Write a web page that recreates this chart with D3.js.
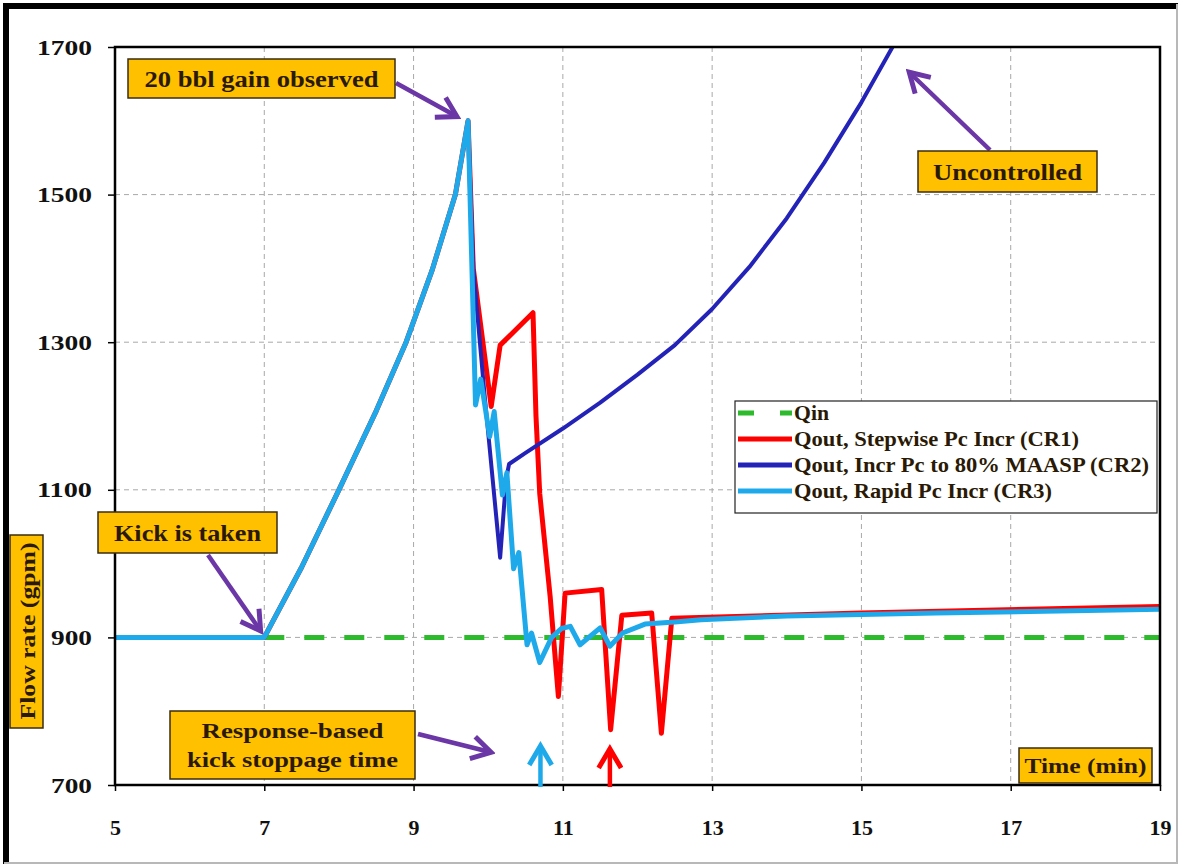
<!DOCTYPE html>
<html>
<head>
<meta charset="utf-8">
<script src="https://cdn.jsdelivr.net/npm/d3@7"></script>
<style>
  html, body { margin: 0; padding: 0; background: #fff; }
  svg { display: block; }
  text { font-family: "Liberation Serif", "Times New Roman", serif; font-weight: bold; }
</style>
</head>
<body>
<svg id="chart" width="1183" height="866"></svg>
<script>
// Axis ticks
const xTicks = [5, 7, 9, 11, 13, 15, 17, 19];
const yTicks = [700, 900, 1100, 1300, 1500, 1700];

// Qin: constant injection rate
const qinTime = [7, 19];
const qinFlow = [900, 900];

// Qout, Stepwise Pc Incr (CR1)
const cr1Time = [5, 7, 7.5, 8, 8.5, 8.9, 9.25, 9.56, 9.73, 9.8, 10.04, 10.16, 10.6, 10.64, 10.69, 10.83, 10.94, 11.03, 11.52, 11.64, 11.79, 12.19, 12.32, 12.46, 15, 19];
const cr1Flow = [900, 900, 995, 1100, 1207, 1300, 1398, 1500, 1600, 1400, 1213, 1296, 1340, 1200, 1095, 955, 820, 960, 965, 775, 930, 933, 770, 926, 933, 942];

// Qout, Incr Pc to 80% MAASP (CR2)
const cr2Time = [5, 7, 7.5, 8, 8.5, 8.9, 9.25, 9.56, 9.73, 9.8, 9.95, 10.16, 10.24, 10.28, 10.5, 11, 11.5, 12, 12.5, 13, 13.5, 14, 14.5, 15, 15.5];
const cr2Flow = [900, 900, 995, 1100, 1207, 1300, 1398, 1500, 1600, 1400, 1230, 1008, 1115, 1135, 1150, 1183, 1218, 1256, 1296, 1345, 1402, 1468, 1543, 1625, 1715];

// Qout, Rapid Pc Incr (CR3)
const cr3Time = [5, 7, 7.5, 8, 8.5, 8.9, 9.25, 9.56, 9.73, 9.83, 9.9, 10.02, 10.08, 10.19, 10.25, 10.34, 10.41, 10.52, 10.58, 10.69, 10.85, 10.98, 11.1, 11.23, 11.5, 11.63, 11.8, 12.1, 12.5, 12.85, 14, 16, 19];
const cr3Flow = [900, 900, 995, 1100, 1207, 1300, 1398, 1500, 1600, 1215, 1250, 1172, 1206, 1093, 1123, 993, 1015, 890, 906, 866, 900, 912, 915, 890, 913, 888, 906, 918, 921, 924, 929, 933, 938];

const seriesNames = ["Qin", "Qout, Stepwise Pc Incr (CR1)", "Qout, Incr Pc to 80% MAASP (CR2)", "Qout, Rapid Pc Incr (CR3)"];
const seriesColors = ["#2dbb2d", "#ff0000", "#2323b8", "#1eaaea"];

const svg = d3.select("#chart");
const plotL = 115, plotR = 1160, plotT = 47, plotB = 785;

const x = d3.scaleLinear().domain([5, 19]).range([plotL, plotR]);
const y = d3.scaleLinear().domain([700, 1700]).range([plotB, plotT]);

// Outer frame
svg.append("rect").attr("x", 0).attr("y", 0).attr("width", 1183).attr("height", 866).attr("fill", "#fff");
svg.append("line").attr("x1", 6).attr("y1", 4).attr("x2", 6).attr("y2", 864).attr("stroke", "#000").attr("stroke-width", 6);
svg.append("line").attr("x1", 3).attr("y1", 6).attr("x2", 1178).attr("y2", 6).attr("stroke", "#000").attr("stroke-width", 6);
svg.append("line").attr("x1", 1177).attr("y1", 4).attr("x2", 1177).attr("y2", 864).attr("stroke", "#b8b8b8").attr("stroke-width", 2);
svg.append("line").attr("x1", 4).attr("y1", 863).attr("x2", 1178).attr("y2", 863).attr("stroke", "#b8b8b8").attr("stroke-width", 2);

// Gridlines
const grid = svg.append("g").attr("stroke", "#a8a8a8").attr("stroke-width", 1).attr("stroke-dasharray", "5,4");
grid.selectAll(".gx").data(xTicks.slice(1, -1)).join("line")
  .attr("x1", d => x(d)).attr("x2", d => x(d)).attr("y1", plotT).attr("y2", plotB);
grid.selectAll(".gy").data(yTicks.slice(1, -1)).join("line")
  .attr("x1", plotL).attr("x2", plotR).attr("y1", d => y(d)).attr("y2", d => y(d));

// Axes
const yAxis = svg.append("g").attr("transform", `translate(${plotL},0)`)
  .call(d3.axisLeft(y).tickValues(yTicks).tickSize(7).tickPadding(16).tickFormat(d3.format("d")));
const xAxis = svg.append("g").attr("transform", `translate(0,${plotB})`)
  .call(d3.axisBottom(x).tickValues(xTicks).tickSize(6).tickPadding(28).tickFormat(d3.format("d")));
[yAxis, xAxis].forEach(g => {
  g.select(".domain").remove();
  g.selectAll(".tick line").attr("stroke", "#000").attr("stroke-width", 1.5);
  g.selectAll(".tick text").attr("fill", "#111").style("font-size", "22px")
    .style("font-family", "'Liberation Serif', 'Times New Roman', serif").style("font-weight", "bold");
});
yAxis.selectAll(".tick text").attr("textLength", d => d >= 1000 ? 55 : 41).attr("lengthAdjust", "spacingAndGlyphs");

// Plot clip
svg.append("clipPath").attr("id", "plotClip").append("rect")
  .attr("x", plotL).attr("y", plotT).attr("width", plotR - plotL).attr("height", plotB - plotT);

const line = d3.line().x(d => x(d[0])).y(d => y(d[1]));
const zip = (a, b) => a.map((t, i) => [t, b[i]]);

const plot = svg.append("g").attr("clip-path", "url(#plotClip)");
plot.append("path").datum(zip(qinTime, qinFlow)).attr("d", line)
  .attr("fill", "none").attr("stroke", seriesColors[0]).attr("stroke-width", 5)
  .attr("stroke-dasharray", "20,20");
plot.append("path").datum(zip(cr1Time, cr1Flow)).attr("d", line)
  .attr("fill", "none").attr("stroke", seriesColors[1]).attr("stroke-width", 5).attr("stroke-linejoin", "round");
plot.append("path").datum(zip(cr2Time, cr2Flow)).attr("d", line)
  .attr("fill", "none").attr("stroke", seriesColors[2]).attr("stroke-width", 4).attr("stroke-linejoin", "round");
plot.append("path").datum(zip(cr3Time, cr3Flow)).attr("d", line)
  .attr("fill", "none").attr("stroke", seriesColors[3]).attr("stroke-width", 5).attr("stroke-linejoin", "round");

// Plot frame
svg.append("rect").attr("x", plotL).attr("y", plotT).attr("width", plotR - plotL).attr("height", plotB - plotT)
  .attr("fill", "none").attr("stroke", "#000").attr("stroke-width", 2.5);

// Arrow markers
const defs = svg.append("defs");
function chevron(id, color) {
  defs.append("marker").attr("id", id).attr("viewBox", "0 0 12 12").attr("refX", 9.5).attr("refY", 6)
    .attr("markerWidth", 6).attr("markerHeight", 6).attr("orient", "auto")
    .append("path").attr("d", "M1.5,1 L10,6 L1.5,11").attr("fill", "none").attr("stroke", color)
    .attr("stroke-width", 2.2).attr("stroke-linejoin", "miter");
}
chevron("headPurple", "#6b36a6");
chevron("headCyan", "#1eaaea");
chevron("headRed", "#ff0000");

function arrow(x1, y1, x2, y2, color, marker, w) {
  svg.append("line").attr("x1", x1).attr("y1", y1).attr("x2", x2).attr("y2", y2)
    .attr("stroke", color).attr("stroke-width", w).attr("marker-end", `url(#${marker})`);
}
arrow(396, 83, 456, 116, "#6b36a6", "headPurple", 4.5);
arrow(208, 555, 260, 630, "#6b36a6", "headPurple", 4.5);
arrow(990, 150, 910, 73, "#6b36a6", "headPurple", 4.5);
arrow(418, 734, 490, 752, "#6b36a6", "headPurple", 4.5);
arrow(x(10.7), plotB + 2, x(10.7), 747, "#1eaaea", "headCyan", 4.5);
arrow(x(11.63), plotB + 2, x(11.63), 750, "#ff0000", "headRed", 4.5);

// Annotation boxes
function box(x0, y0, w, h, lines, size, lens) {
  const g = svg.append("g");
  g.append("rect").attr("x", x0).attr("y", y0).attr("width", w).attr("height", h)
    .attr("fill", "#ffc000").attr("stroke", "#3a2c10").attr("stroke-width", 1.5);
  const n = lines.length, lh = size * 1.3;
  lines.forEach((t, i) => {
    g.append("text").attr("x", x0 + w / 2).attr("y", y0 + h / 2 + (i - (n - 1) / 2) * lh)
      .attr("dy", "0.35em").attr("text-anchor", "middle").attr("fill", "#2a1a05")
      .style("font-size", size + "px").attr("textLength", lens[i]).attr("lengthAdjust", "spacingAndGlyphs")
      .text(t);
  });
}
box(128, 59, 267, 39, ["20 bbl gain observed"], 23, [234]);
box(98, 512, 179, 41, ["Kick is taken"], 23, [147]);
box(918, 151, 179, 41, ["Uncontrolled"], 23, [149]);
box(170, 711, 245, 68, ["Response-based", "kick stoppage time"], 22, [182, 211]);
box(1019, 748, 133, 35, ["Time (min)"], 22, [122]);

// Vertical axis title box
const yt = svg.append("g");
yt.append("rect").attr("x", 10).attr("y", 535).attr("width", 33).attr("height", 193)
  .attr("fill", "#ffc000").attr("stroke", "#3a2c10").attr("stroke-width", 1.5);
yt.append("text").attr("transform", "translate(27,631) rotate(-90)").attr("dy", "0.35em")
  .attr("text-anchor", "middle").attr("fill", "#2a1a05").style("font-size", "22px")
  .attr("textLength", 177).attr("lengthAdjust", "spacingAndGlyphs").text("Flow rate (gpm)");

// Legend
const lg = svg.append("g");
lg.append("rect").attr("x", 735).attr("y", 401).attr("width", 422).attr("height", 112)
  .attr("fill", "#fff").attr("stroke", "#222").attr("stroke-width", 1.2);
const legendY = [413, 439, 465, 491];
const legendLen = [35, 285, 355, 258];
seriesNames.forEach((name, i) => {
  lg.append("line").attr("x1", 738).attr("x2", 792).attr("y1", legendY[i]).attr("y2", legendY[i])
    .attr("stroke", seriesColors[i]).attr("stroke-width", 5)
    .attr("stroke-dasharray", i === 0 ? "16,26" : null);
  lg.append("text").attr("x", 794).attr("y", legendY[i]).attr("dy", "0.35em").attr("fill", "#2a1a05")
    .style("font-size", "20px").attr("textLength", legendLen[i]).attr("lengthAdjust", "spacingAndGlyphs")
    .text(name);
});
</script>
</body>
</html>
